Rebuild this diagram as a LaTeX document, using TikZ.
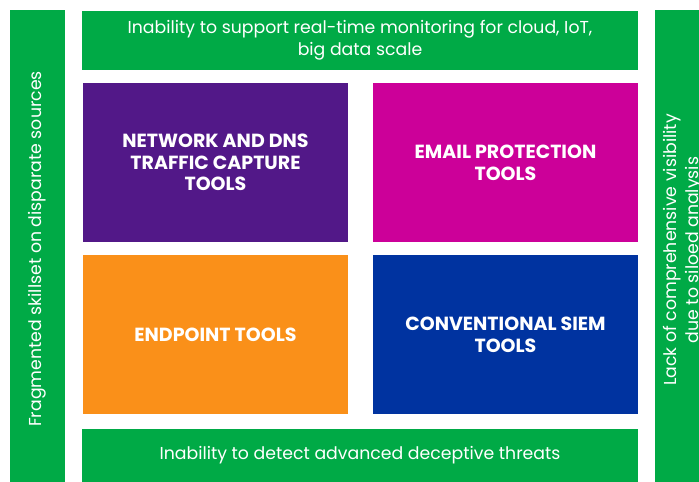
\documentclass[tikz,border=0pt]{standalone}
\usepackage{fontspec}
\setmainfont{Poppins}
\definecolor{cgreen}{RGB}{0,170,70}
\definecolor{cpurple}{RGB}{82,24,136}
\definecolor{cmagenta}{RGB}{204,0,153}
\definecolor{corange}{RGB}{250,144,25}
\definecolor{cblue}{RGB}{0,51,160}
\tikzset{
  panel/.style={anchor=north west, inner sep=0pt, outer sep=0pt, draw=none, text=white, align=center},
  tool/.style={panel, minimum width=265pt, minimum height=159pt, font=\bfseries\fontsize{19}{21.7}\selectfont},
  band/.style={panel, fill=cgreen, minimum width=556pt, font=\fontsize{17.3}{22}\selectfont},
  side/.style={panel, fill=cgreen, minimum width=55pt, minimum height=472pt},
  sidetext/.style={text=white, align=center, rotate=90, font=\fontsize{17.3}{22}\selectfont, inner sep=0pt}
}
\begin{document}
\begin{tikzpicture}[x=1pt,y=1pt]
\useasboundingbox (0,0) rectangle (699,-482);
\clip (0,0) rectangle (699,-482);
\fill[white] (0,0) rectangle (699,-482);
% side bars
\node[side] (lbar) at (10,-10) {};
\node[sidetext] (ltext) at (37.5,-249) {Fragmented skillset on disparate sources};
\node[side] (rbar) at (655,-10) {};
\node[sidetext] (rtext) at (683.5,-250) {Lack of comprehensive visibility\\due to siloed analysis};
% top and bottom bands
\node[band, minimum height=59pt] (top) at (82,-11) {Inability to support real-time monitoring for cloud, IoT,\\big data scale};
\node[band, minimum height=53pt] (bottom) at (82,-429) {Inability to detect advanced deceptive threats};
% tool boxes
\node[tool, fill=cpurple] (net) at (83,-83) {NETWORK AND DNS\\TRAFFIC CAPTURE\\TOOLS};
\node[tool, fill=cmagenta] (email) at (373,-83) {EMAIL PROTECTION\\TOOLS};
\node[tool, fill=corange] (endp) at (83,-255) {ENDPOINT TOOLS};
\node[tool, fill=cblue] (siem) at (373,-255) {CONVENTIONAL SIEM\\TOOLS};
\end{tikzpicture}
\end{document}
